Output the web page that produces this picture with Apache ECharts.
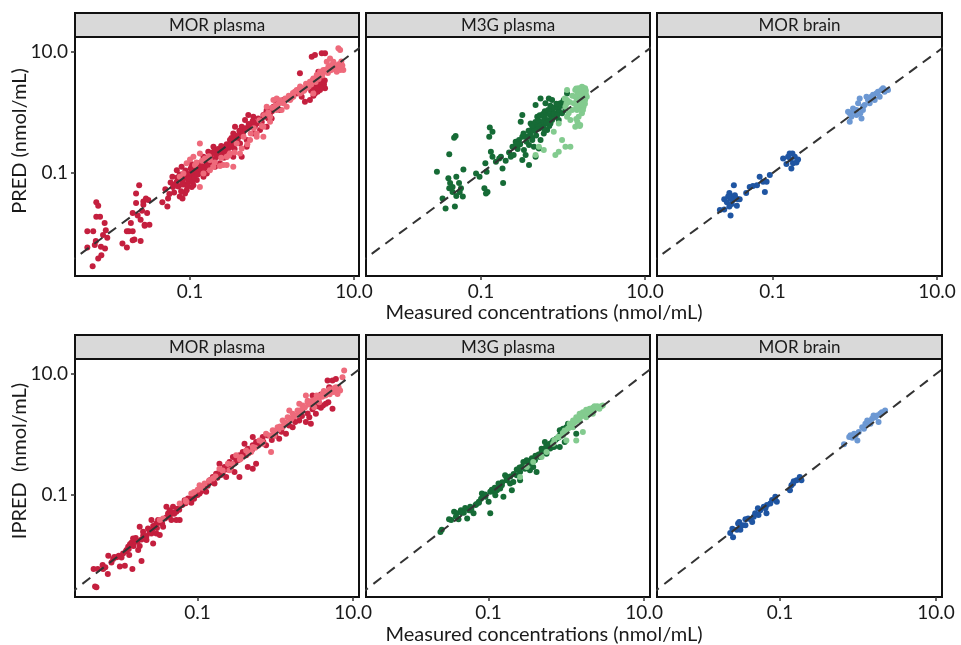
<!DOCTYPE html>
<html lang="en">
<head>
  <meta charset="UTF-8" />
  <title>PRED / IPRED vs measured</title>
  <script src="https://cdn.jsdelivr.net/npm/echarts@6/dist/echarts.min.js"></script>
  <style>
    html, body { margin: 0; padding: 0; background: #fff; }
    #main { width: 961px; height: 645px; }
  </style>
</head>
<body>
  <div id="main"></div>
  <script>
    // 面板标题与轴
    var panelTitles = ["MOR plasma", "M3G plasma", "MOR brain"];
    var rowTitles = ["PRED (nmol/mL)", "IPRED  (nmol/mL)"];
    var xTitle = "Measured concentrations (nmol/mL)";
    var tickValues = [0.1, 10];
    var xRangeTop = [0.00396, 11.5];
    var xRangeBottom = [0.00265, 11.9];
    var yRange = [0.002, 17.7];
    var identityLine = [[0.001, 0.001], [100, 100]];

    // PRED - MOR plasma
    var predMorPlasmaDark = [
      [0.0056,0.0059],[0.0065,0.0029],[0.0056,0.011],[0.0066,0.011],[0.0072,0.033],[0.0076,0.029],[0.0072,0.019],[0.0080,0.019],[0.0091,0.015],[0.0094,0.0114],[0.0087,0.0095],[0.0098,0.0086],[0.0071,0.0076],[0.0082,0.0061],[0.0092,0.0057],[0.0076,0.0039],[0.0083,0.0044],[0.0069,0.0065],
      [0.015,0.0069],[0.017,0.0059],[0.018,0.011],[0.019,0.015],[0.020,0.022],[0.022,0.046],[0.024,0.063],[0.022,0.032],[0.023,0.020],[0.025,0.017],[0.026,0.024],[0.027,0.034],[0.029,0.038],[0.030,0.022],[0.028,0.014],[0.025,0.0076],[0.021,0.0080],[0.020,0.0078],[0.017,0.011],[0.020,0.011],[0.027,0.030],[0.031,0.036],[0.032,0.014],[0.028,0.0135],
      [0.046,0.033],[0.053,0.028],[0.050,0.054],[0.054,0.038],[0.061,0.087],[0.062,0.059],[0.069,0.072],[0.075,0.041],[0.081,0.038],[0.087,0.046],[0.069,0.112],[0.079,0.127],[0.091,0.099],[0.102,0.119],[0.115,0.112],[0.132,0.105],[0.146,0.087],[0.160,0.099],[0.167,0.154],[0.126,0.145],[0.105,0.059],[0.091,0.052],[0.110,0.063],[0.095,0.077],[0.121,0.077],[0.081,0.077],
      [0.085,0.065],[0.09,0.085],[0.1,0.09],[0.075,0.095],[0.095,0.07],[0.11,0.095],[0.12,0.13],[0.105,0.14],
      [0.146,0.186],[0.167,0.225],[0.193,0.272],[0.211,0.186],[0.232,0.241],[0.267,0.272],[0.307,0.351],[0.337,0.453],[0.371,0.398],[0.407,0.482],[0.469,0.751],[0.514,0.91],[0.565,0.583],[0.650,0.662],[0.714,0.751],[0.784,0.91],[0.861,1.10],[0.946,0.97],[1.04,1.25],[1.14,1.42],[0.592,0.453],[0.491,0.351],[0.407,0.309],[0.337,0.272],[0.280,0.186],[0.232,0.145],[0.202,0.127],[0.427,0.186],[0.491,0.272],[0.337,0.186],[0.354,0.583],[0.427,0.583],[0.592,0.853],[0.714,0.513],[0.861,0.583],[0.99,0.80],[1.25,1.10],[1.37,1.61],[1.66,1.83],[2.0,2.07],[2.19,4.44],[2.30,1.83],[2.52,1.51],[2.90,1.61],[3.34,2.07],[3.85,2.35],[4.23,3.03],[4.43,2.51],[4.04,3.91],[3.51,3.44],[3.05,8.37],[3.34,8.92],[4.04,9.51],[4.43,9.51],[3.67,4.73],[3.85,2.85],[3.19,2.67],
      [0.18,0.2],[0.2,0.17],[0.22,0.21],[0.25,0.22],[0.28,0.3],[0.3,0.26],[0.33,0.32],[0.38,0.36],[0.42,0.42],[0.45,0.5],[0.5,0.55],[0.55,0.6],[0.6,0.7],[0.7,0.68],[0.8,0.85],[0.9,0.8],[1.0,1.05],[0.16,0.14],[0.14,0.13],[0.24,0.28],[0.26,0.18],[0.35,0.25],[3.6,2.2],[4.2,2.7],[3.0,2.3],[2.5,2.4],
      [0.072,0.06],[0.078,0.05],[0.083,0.09],[0.088,0.11],[0.093,0.06],[0.098,0.08],[0.103,0.1],[0.108,0.075],[0.113,0.085],[0.118,0.11],[0.125,0.095],[0.13,0.12],[0.135,0.14],[0.14,0.1],[0.15,0.12],[0.155,0.16],[0.165,0.13],[0.17,0.18],[0.175,0.15],[0.185,0.16],[0.19,0.22],[0.2,0.24],[0.21,0.2],[0.22,0.25],[0.23,0.19],[0.24,0.24],[0.26,0.26],[0.27,0.23],[0.29,0.27],[0.31,0.3],[0.32,0.38],[0.34,0.35],[0.36,0.42],[0.39,0.4],[0.4,0.5],[0.44,0.45],[0.47,0.55],[0.52,0.65],[0.58,0.72],[0.62,0.6],[0.68,0.8],[0.75,0.7],[0.85,1.0],[0.95,1.15],[1.1,1.2],[0.065,0.065],[0.058,0.07],[0.056,0.045],[0.064,0.048],[0.07,0.085],[0.08,0.065],
      [3.4,2.8],[3.7,3.0],[4.0,3.3],[4.3,2.9],[3.9,2.6],[4.4,3.4],[3.2,1.9],[3.5,2.5]
    ];
    var predMorPlasmaLight = [
      [0.10,0.168],[0.115,0.136],[0.132,0.309],[0.152,0.175],[0.175,0.164],[0.193,0.127],[0.232,0.131],[0.255,0.136],[0.28,0.136],[0.307,0.211],[0.407,0.211],[0.371,0.309],[0.54,0.351],[0.65,0.453],[0.784,0.583],[0.861,1.25],[1.04,1.61],[1.14,1.10],[1.31,1.10],[1.51,1.25],[1.66,1.61],[1.82,1.83],[2.0,2.35],[2.19,2.07],[2.40,2.51],[2.65,2.85],[2.90,3.24],[3.19,3.67],[3.51,4.17],[3.85,4.73],[4.23,5.04],[4.87,5.72],[5.34,6.1],[5.86,5.72],[6.16,4.73],[6.77,5.04],[7.4,5.04],[5.6,6.92],[6.45,11.5],[6.77,10.8],[5.1,7.85],[4.65,6.92],[3.19,2.07],[0.946,0.705],[0.784,0.398],[0.65,0.398],[1.14,1.71],[1.37,1.42],[0.132,0.059],[0.146,0.099],[0.175,0.112],[0.091,0.145],[0.075,0.087],[0.083,0.099],[0.28,0.186],[0.337,0.127],[0.427,0.255],[0.11,0.186],[0.132,0.211],
      [1.2,1.4],[1.4,1.5],[1.6,1.9],[1.8,2.1],[2.1,2.4],[2.3,2.2],[2.6,3.0],[2.8,2.7],[3.3,3.6],[3.6,4.0],[4.0,4.4],[4.4,4.8],[5.0,5.3],[5.5,6.0],[6.0,5.8],[6.5,6.3],[7.0,5.6],[1.0,1.2],[0.9,1.0],[0.7,0.75],[0.6,0.55],[0.55,0.45],[0.45,0.4],[0.5,0.3],
      [1.1,1.3],[1.25,1.6],[1.45,1.7],[1.7,1.7],[1.9,2.2],[2.2,2.7],[2.45,2.3],[2.7,2.6],[3.0,2.9],[3.1,3.4],[3.4,3.2],[3.7,3.6],[4.1,4.1],[4.5,5.1],[4.8,4.5],[5.2,5.0],[5.6,5.2],[6.2,5.4],[6.6,5.8],[7.2,6.0],[7.0,7.0],[0.8,0.9],[0.75,0.6],[0.95,0.85],[0.12,0.15],[0.14,0.16],[0.17,0.19],[0.2,0.15],[0.24,0.18],[0.3,0.2],[0.35,0.22]
    ];

    // PRED - M3G plasma
    var predM3gPlasmaDark = [
      [0.029,0.105],[0.041,0.204],[0.047,0.384],[0.049,0.409],[0.040,0.082],[0.042,0.069],[0.045,0.059],[0.050,0.087],[0.054,0.069],[0.057,0.056],[0.060,0.041],[0.061,0.115],[0.045,0.049],[0.055,0.049],[0.050,0.042],[0.037,0.026],[0.048,0.028],[0.034,0.038],[0.041,0.056],
      [0.087,0.099],[0.096,0.087],[0.113,0.145],[0.117,0.105],[0.132,0.225],[0.138,0.186],[0.152,0.154],[0.167,0.175],[0.183,0.119],[0.175,0.186],[0.126,0.399],[0.128,0.568],[0.138,0.482],[0.110,0.056],[0.120,0.049],[0.186,0.069],[0.115,0.046],
      [0.231,0.186],[0.242,0.272],[0.265,0.33],[0.291,0.351],[0.319,0.399],[0.334,0.240],[0.319,0.164],[0.385,0.136],[0.35,0.199],[0.385,0.29],[0.422,0.351],[0.422,0.513],[0.463,0.583],[0.508,0.547],[0.557,0.583],[0.583,0.453],[0.64,0.513],[0.703,0.662],[0.771,0.853],[0.807,0.97],[0.887,1.10],[0.929,1.42],[1.02,1.61],[1.12,2.07],[0.736,1.61],[0.611,1.42],[0.532,1.71],[0.671,1.71],[0.319,0.91],[0.305,0.705],[0.463,0.186],[0.508,0.256],[0.532,0.351],[0.611,0.662],[0.736,0.751],[0.887,0.751],[0.973,0.97],[1.07,1.10],[0.442,0.272],[0.367,0.399],[0.403,0.662],[0.485,0.853],[0.583,0.853],[0.703,1.10],[0.846,1.25],[0.463,1.33],
      [0.55,0.7],[0.6,0.8],[0.65,0.75],[0.7,0.9],[0.75,1.0],[0.8,0.85],[0.45,0.5],[0.5,0.65],[0.68,0.6],[0.9,1.0],[0.62,0.95],[0.72,1.15],[0.4,0.45],[0.35,0.4],[0.3,0.3],[0.28,0.25],[0.36,0.33],
      [0.33,0.45],[0.38,0.5],[0.42,0.6],[0.46,0.7],[0.5,0.75],[0.52,0.9],[0.57,0.95],[0.6,1.05],[0.66,1.1],[0.7,1.3],[0.78,1.2],[0.83,1.4],[0.95,1.3],[1.0,1.5],[0.58,0.55],[0.63,0.68],[0.73,0.8],[0.78,0.95],[0.85,0.9],[0.42,0.38],[0.47,0.42],[0.25,0.2],[0.27,0.3],[0.22,0.22],[0.2,0.16]
    ];
    var predM3gPlasmaLight = [
      [0.807,0.199],[0.887,0.225],[0.973,0.351],[1.07,0.272],[1.23,0.272],[1.41,0.583],[1.62,0.621],[1.55,0.853],[1.48,1.61],[1.41,2.35],[1.55,2.51],[1.70,2.67],[1.86,2.51],[1.95,1.83],[1.78,1.25],[1.48,1.10],[1.70,0.97],[1.35,1.42],[1.12,2.35],[1.12,1.61],[1.07,1.25],[1.17,0.97],[1.29,1.10],[0.887,0.662],[0.771,0.482],[0.508,0.272],[0.583,0.240],[0.463,0.199],[1.12,0.853],[1.23,0.751],[1.41,1.83],[1.62,1.83],[1.86,2.07],[1.86,1.61],
      [1.5,2.0],[1.6,2.2],[1.7,1.5],[1.8,1.9],[1.55,1.3],[1.65,1.15],[1.45,2.5],[1.9,2.3],[1.75,2.6],[1.6,1.7],[1.5,1.4],[1.5,0.7],[1.45,0.78],[1.6,0.6],
      [1.5,1.9],[1.6,2.4],[1.7,2.0],[1.8,2.3],[1.85,1.4],[1.65,1.35],[1.55,1.6],[1.75,1.1],[1.9,2.0],[1.45,1.2],[1.2,1.5],[1.3,1.9],[1.05,1.7],[1.1,1.4]
    ];

    // PRED - MOR brain
    var predMorBrainDark = [
      [0.023,0.0245],[0.026,0.025],[0.026,0.037],[0.028,0.033],[0.030,0.047],[0.031,0.020],[0.032,0.031],[0.033,0.036],[0.033,0.041],[0.034,0.063],[0.035,0.043],[0.036,0.038],[0.037,0.029],[0.038,0.037],[0.040,0.037],[0.031,0.038],[0.029,0.041],[0.030,0.028],
      [0.048,0.047],[0.053,0.059],[0.058,0.061],[0.065,0.063],[0.070,0.087],[0.077,0.072],[0.081,0.049],[0.085,0.072],[0.093,0.093],
      [0.135,0.175],[0.148,0.141],[0.155,0.186],[0.162,0.211],[0.170,0.119],[0.178,0.145],[0.187,0.186],[0.196,0.150],[0.205,0.168],[0.166,0.168],[0.175,0.211]
    ];
    var predMorBrainLight = [
      [0.83,1.03],[0.87,0.705],[0.91,0.853],[0.97,1.03],[1.05,1.10],[1.10,1.42],[1.15,1.71],[1.21,0.80],[1.26,1.25],[1.32,1.33],[1.39,1.83],[1.45,1.61],[1.52,1.42],[1.59,1.83],[1.67,1.96],[1.75,1.61],[1.83,2.07],[1.92,2.21],[2.01,1.83],[2.11,2.35],[2.21,2.51],[2.31,2.21],[2.54,2.35],[0.87,0.97],[1.05,0.91],[1.17,0.97],[0.955,1.17],[1.52,1.71],[1.26,1.10]
    ];

    // IPRED - MOR plasma
    var ipredMorPlasmaDark = [
      [0.0048,0.0030],[0.0050,0.0029],[0.0046,0.0058],[0.0052,0.0058],[0.0061,0.0058],[0.0070,0.0048],[0.0071,0.0097],[0.0082,0.0085],[0.0091,0.0091],[0.0097,0.0097],[0.0105,0.0090],[0.0116,0.0066],[0.0145,0.0058],[0.010,0.0064],
      [0.0122,0.012],[0.0128,0.0136],[0.0141,0.0159],[0.0148,0.0187],[0.0164,0.0165],[0.018,0.014],[0.019,0.0079],[0.022,0.0205],[0.023,0.0274],[0.0255,0.0227],[0.0268,0.0155],[0.0295,0.0227],[0.0326,0.0213],[0.036,0.0292],[0.0417,0.0485],[0.046,0.0377],[0.0483,0.0625],[0.0532,0.0517],[0.0618,0.0667],[0.0681,0.0806],[0.0752,0.0859],[0.083,0.0728],[0.0916,0.0938],[0.096,0.104],[0.106,0.104],[0.117,0.118],[0.129,0.143],[0.143,0.173],[0.157,0.196],[0.173,0.222],[0.191,0.237],[0.222,0.287],[0.257,0.347],[0.284,0.42],[0.313,0.394],[0.345,0.447],[0.381,0.507],[0.442,0.576],[0.512,0.654],[0.565,0.742],[0.688,0.898],[0.798,0.957],[0.925,0.957],[1.12,0.843],[1.37,1.02],[1.67,1.31],[2.03,1.69],[2.47,1.59],[2.86,1.49],[3.32,2.18],[3.85,2.74],[4.46,3.19],[5.43,2.64],[4.92,6.02],[5.43,7.76],[6.0,8.26],[3.01,4.38],[3.85,4.55],[4.69,7.76],[2.73,1.92],
      [0.0588,0.0377],[0.0532,0.0377],[0.0438,0.055],[0.0397,0.0625],[0.031,0.0377],[0.0255,0.0377],[0.018,0.0292],[0.0199,0.0242],[0.0132,0.0099],[0.0172,0.012],[0.022,0.0176],[0.0268,0.030],[0.0295,0.0332],[0.284,0.325],[0.421,0.447],[0.401,0.697],[0.512,0.898],[0.233,0.196],[0.191,0.325],[0.129,0.111],[0.165,0.152],[0.298,0.237],[0.345,0.196],[0.442,0.287],[0.512,0.269],[0.565,0.325],[0.759,0.654],
      [0.006,0.0068],[0.0065,0.0062],[0.0078,0.0075],[0.0085,0.0092],[0.011,0.0105],[0.012,0.0115],[0.013,0.0125],[0.0135,0.015],[0.015,0.014],[0.016,0.019],[0.017,0.017],[0.019,0.018],[0.02,0.021],[0.021,0.019],[0.024,0.024],[0.026,0.026],[0.028,0.03],[0.03,0.028],[0.033,0.034],[0.035,0.033],[0.038,0.04],[0.04,0.042],[0.044,0.045],[0.048,0.05],[0.05,0.048],[0.055,0.058],[0.058,0.056],[0.064,0.068],[0.07,0.072],[0.078,0.08],[0.085,0.088],[0.09,0.085],[0.1,0.098],[0.11,0.112],[0.12,0.125],[0.135,0.14],[0.15,0.16],[0.16,0.165],[0.18,0.19],[0.2,0.21],[0.21,0.23],[0.24,0.26],[0.27,0.29],[0.3,0.33],[0.33,0.37],[0.36,0.4],[0.4,0.45],[0.46,0.5],[0.5,0.55],[0.6,0.65],[0.7,0.75],[0.9,0.8],[1.0,0.95],[1.2,1.1],[1.5,1.4],[1.8,1.6],[2.2,2.0],[2.6,2.2],[3.0,2.6],[3.5,2.9],[4.1,3.0],[4.8,3.4]
    ];
    var ipredMorPlasmaLight = [
      [0.0588,0.071],[0.0716,0.0757],[0.083,0.104],[0.106,0.143],[0.123,0.152],[0.157,0.184],[0.191,0.269],[0.245,0.325],[0.313,0.447],[0.421,0.54],[0.512,0.614],[0.624,0.791],[0.759,1.02],[0.925,1.16],[1.07,1.31],[1.24,1.69],[1.44,1.92],[1.67,2.18],[1.93,2.48],[2.24,3.0],[2.60,3.4],[3.01,3.62],[3.49,4.11],[4.05,4.67],[4.69,4.98],[5.43,5.31],[6.3,4.67],[6.0,6.02],[7.67,11.4],[7.3,8.81],[0.880,0.507],[3.16,2.81],[3.66,3.4],[2.03,3.19],[1.51,2.48],[2.47,4.38],[0.036,0.0401],[0.0326,0.0377],[1.24,1.31],[0.971,0.957],[0.688,0.697],[0.488,0.507],[0.363,0.42],[0.257,0.252],
      [1.3,1.5],[1.6,1.8],[1.8,2.0],[2.1,2.5],[2.3,2.7],[2.7,3.1],[3.3,3.8],[3.8,4.3],[4.3,4.6],[5.0,5.6],[5.7,5.8],[6.5,6.0],[2.9,3.3],[1.1,1.2],
      [0.07,0.08],[0.09,0.11],[0.1,0.12],[0.115,0.13],[0.14,0.17],[0.17,0.2],[0.21,0.25],[0.28,0.32],[0.35,0.38],[0.45,0.48],[0.55,0.6],[0.68,0.75],[0.85,0.95],[1.0,1.1],[1.15,1.35],[1.35,1.55],[1.55,1.75],[1.75,2.0],[2.0,2.3],[2.4,2.8],[2.8,3.2],[3.2,3.5],[3.6,3.8],[4.0,4.2],[4.4,4.4],[5.0,4.6],[5.6,5.0],[6.2,5.5],[6.8,5.3],[2.6,3.6],[3.4,4.4],[4.2,5.2]
    ];

    // IPRED - M3G plasma
    var ipredM3gPlasmaDark = [
      [0.024,0.024],[0.025,0.026],[0.033,0.038],[0.036,0.052],[0.039,0.049],[0.044,0.055],[0.041,0.039],[0.048,0.050],[0.053,0.040],[0.056,0.055],[0.064,0.049],[0.058,0.063],[0.068,0.067],[0.075,0.073],[0.082,0.104],[0.091,0.092],[0.10,0.076],[0.105,0.049],[0.116,0.111],[0.128,0.118],[0.141,0.126],[0.148,0.143],[0.163,0.209],[0.171,0.173],[0.189,0.152],[0.208,0.162],[0.230,0.209],[0.254,0.237],[0.267,0.287],[0.280,0.347],[0.309,0.369],[0.34,0.325],[0.375,0.287],[0.394,0.369],[0.414,0.237],[0.457,0.42],[0.48,0.507],[0.529,0.576],[0.555,0.654],[0.613,0.697],[0.676,0.791],[0.745,0.843],[0.822,0.957],[0.863,1.16],[0.906,1.23],[1.0,1.31],[1.05,1.49],[0.822,0.614],[0.952,0.742],[0.822,1.16],[1.34,1.02],[0.676,0.614],[0.555,0.476],[0.48,0.576],[0.529,0.742],[0.34,0.252],[0.294,0.269],[0.254,0.173],[0.199,0.118],[0.155,0.092],[0.122,0.0975],[0.134,0.152],[0.105,0.111],[0.075,0.076],[0.058,0.055],[0.038,0.043],[0.031,0.039],
      [0.045,0.05],[0.05,0.06],[0.06,0.058],[0.07,0.07],[0.08,0.085],[0.09,0.1],[0.11,0.12],[0.12,0.13],[0.13,0.125],[0.15,0.16],[0.17,0.19],[0.19,0.2],[0.21,0.22],[0.23,0.26],[0.25,0.28],[0.28,0.3],[0.3,0.33],[0.33,0.36],[0.36,0.4],[0.4,0.44],[0.44,0.46],[0.5,0.56],[0.55,0.6],[0.6,0.66],[0.65,0.72],[0.72,0.8],[0.8,0.88],[0.9,1.0],[0.62,0.58],[0.7,0.62]
    ];
    var ipredM3gPlasmaLight = [
      [0.254,0.196],[0.309,0.287],[0.375,0.347],[0.48,0.42],[0.555,0.507],[0.676,0.697],[0.783,0.898],[0.906,0.957],[1.0,1.09],[1.10,1.49],[1.22,1.69],[1.34,1.92],[1.48,2.18],[1.63,2.32],[1.80,2.54],[1.99,2.64],[2.19,2.74],[2.42,2.74],[2.66,2.64],[2.94,3.0],[1.63,1.09],[1.34,0.791],[1.22,1.31],[1.48,1.69],[1.0,0.791],[2.19,2.18],[1.80,1.92],[1.99,2.32],
      [1.6,2.0],[1.9,2.4],[2.1,2.5],[2.5,2.9],[1.4,1.8],[1.15,1.4],[2.3,2.9],[1.7,2.2],[2.0,2.2],[2.6,2.8],
      [0.9,1.05],[1.05,1.25],[1.2,1.45],[1.3,1.6],[1.45,1.9],[1.55,2.05],[1.75,2.3],[2.0,2.5],[2.3,2.6],[2.5,2.75],[2.8,2.9],[1.1,1.3],[0.95,1.15],[0.8,0.9],[0.7,0.8]
    ];

    // IPRED - MOR brain
    var ipredMorBrainDark = [
      [0.023,0.023],[0.025,0.0195],[0.0245,0.027],[0.028,0.026],[0.029,0.033],[0.030,0.035],[0.033,0.031],[0.031,0.026],[0.036,0.039],[0.036,0.031],[0.039,0.040],[0.042,0.039],[0.044,0.035],[0.046,0.043],[0.048,0.049],[0.052,0.059],[0.056,0.055],[0.062,0.063],[0.067,0.049],[0.068,0.067],[0.075,0.071],[0.079,0.081],[0.087,0.092],[0.091,0.076],[0.065,0.059],[0.053,0.046],
      [0.134,0.118],[0.140,0.143],[0.147,0.152],[0.163,0.173],[0.179,0.196],[0.188,0.173],[0.150,0.166]
    ];
    var ipredMorBrainLight = [
      [0.66,0.68],[0.80,0.96],[0.84,0.875],[0.89,1.02],[0.98,0.79],[1.02,1.09],[1.13,1.31],[1.24,1.49],[1.31,1.69],[1.37,1.59],[1.51,1.80],[1.58,2.05],[1.66,1.92],[1.83,1.59],[1.92,2.18],[2.02,2.32],[2.22,2.48],[0.93,0.96],[1.19,1.23],[1.44,1.49],[1.75,2.05],[0.77,0.90]
    ];

    var panelColors = [
      ["#c41f3e", "#ee6a7b"],
      ["#166b36", "#83cb8f"],
      ["#1f55a2", "#6c98d3"]
    ];
    var panelData = [
      [predMorPlasmaDark, predMorPlasmaLight],
      [predM3gPlasmaDark, predM3gPlasmaLight],
      [predMorBrainDark, predMorBrainLight],
      [ipredMorPlasmaDark, ipredMorPlasmaLight],
      [ipredM3gPlasmaDark, ipredM3gPlasmaLight],
      [ipredMorBrainDark, ipredMorBrainLight]
    ];

    var FONT = "Lato, 'Open Sans', sans-serif";
    var colLeft = [75, 366, 657];
    var colWidth = [284, 284, 285];
    var rowTop = [37, 359];
    var rowHeight = [239, 238];
    var stripHeight = 24;

    var myChart = echarts.init(document.getElementById("main"));

    var grids = [], xAxes = [], yAxes = [], series = [], graphics = [];

    for (var i = 0; i < 6; i++) {
      var row = Math.floor(i / 3), col = i % 3;
      grids.push({
        left: colLeft[col], top: rowTop[row], width: colWidth[col], height: rowHeight[row],
        show: true, borderColor: "#111", borderWidth: 2, backgroundColor: "#fff"
      });
      var xr = row === 0 ? xRangeTop : xRangeBottom;
      xAxes.push({
        gridIndex: i, type: "log", logBase: 10, min: xr[0], max: xr[1],
        axisLine: { show: false },
        splitLine: { show: false },
        axisTick: { show: true, length: 4, customValues: tickValues, lineStyle: { color: "#333", width: 1.5 } },
        axisLabel: {
          show: true, customValues: tickValues, margin: 6,
          color: "#1a1a1a", fontSize: 19, fontFamily: FONT,
          formatter: function (v) { return Number(v).toFixed(1); }
        }
      });
      yAxes.push({
        gridIndex: i, type: "log", logBase: 10, min: yRange[0], max: yRange[1],
        axisLine: { show: false },
        splitLine: { show: false },
        axisTick: { show: col === 0, length: 4, customValues: tickValues, lineStyle: { color: "#333", width: 1.5 } },
        axisLabel: {
          show: col === 0, customValues: tickValues, margin: 7,
          color: "#1a1a1a", fontSize: 19, fontFamily: FONT,
          formatter: function (v) { return Number(v).toFixed(1); }
        }
      });
      // 深色、浅色两组点
      for (var k = 0; k < 2; k++) {
        series.push({
          type: "scatter", xAxisIndex: i, yAxisIndex: i,
          data: panelData[i][k], symbolSize: 6, z: 2,
          itemStyle: { color: panelColors[col][k], opacity: 1 },
          silent: true
        });
      }
      // y = x 参考线
      series.push({
        type: "line", xAxisIndex: i, yAxisIndex: i, data: identityLine,
        symbol: "none", z: 3, silent: true, clip: true,
        lineStyle: { color: "#333", width: 2, type: [10, 7] }
      });
      // 面板条
      graphics.push({
        type: "rect",
        shape: { x: colLeft[col], y: rowTop[row] - stripHeight, width: colWidth[col], height: stripHeight },
        style: { fill: "#d9d9d9", stroke: "#111", lineWidth: 2 }
      });
      graphics.push({
        type: "text",
        x: colLeft[col] + colWidth[col] / 2, y: rowTop[row] - stripHeight / 2 + 1,
        style: {
          text: panelTitles[col], font: "17px " + FONT, fill: "#1a1a1a",
          textAlign: "center", textVerticalAlign: "middle", align: "center", verticalAlign: "middle"
        }
      });
    }

    // 轴标题
    var yTitleY = [141, 461];
    var xTitleY = [313, 635];
    for (var r = 0; r < 2; r++) {
      graphics.push({
        type: "text", x: 20, y: yTitleY[r], rotation: Math.PI / 2,
        style: {
          text: rowTitles[r], font: "20px " + FONT, fill: "#1a1a1a",
          textAlign: "center", textVerticalAlign: "middle", align: "center", verticalAlign: "middle"
        }
      });
      graphics.push({
        type: "text", x: 544, y: xTitleY[r],
        style: {
          text: xTitle, font: "20px " + FONT, fill: "#1a1a1a",
          textAlign: "center", textVerticalAlign: "middle", align: "center", verticalAlign: "middle"
        }
      });
    }

    var option = {
      animation: false,
      backgroundColor: "#fff",
      grid: grids,
      xAxis: xAxes,
      yAxis: yAxes,
      series: series,
      graphic: graphics
    };

    myChart.setOption(option);
  </script>
</body>
</html>
